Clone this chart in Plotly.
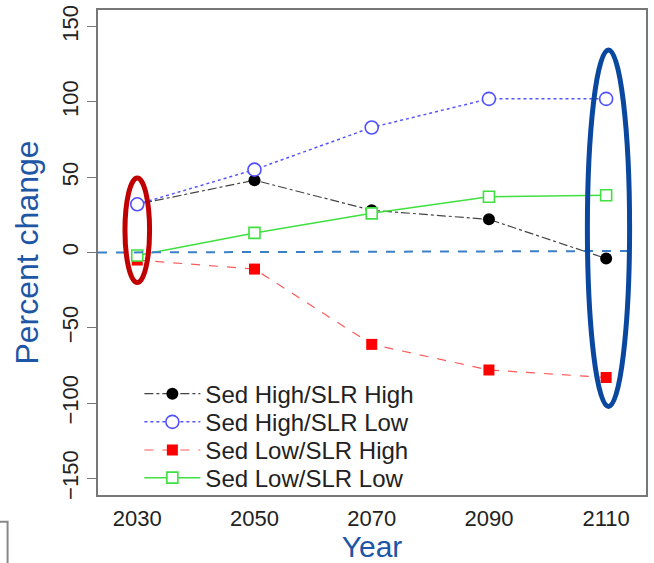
import plotly.graph_objects as go

# Years on the x axis
years = [2030, 2050, 2070, 2090, 2110]

# Percent change for each sediment / sea-level-rise scenario
sed_high_slr_high = [32, 48, 28, 22, -4]
sed_high_slr_low = [32, 55, 83, 102, 102]
sed_low_slr_high = [-5, -11, -61, -78, -83]
sed_low_slr_low = [-2, 13, 26, 37, 38]

series_names = ["Sed High/SLR High", "Sed High/SLR Low", "Sed Low/SLR High", "Sed Low/SLR Low"]

y_ticks = [-150, -100, -50, 0, 50, 100, 150]
x_range = [2023.3, 2116.8]
y_range = [-161, 161]

FONT = "Liberation Sans, Arial, sans-serif"
TITLE_BLUE = "#1D56A5"
TEXT = "#222222"

fig = go.Figure()

fig.add_trace(go.Scatter(
    x=years, y=sed_high_slr_high, name=series_names[0], mode="lines+markers",
    line=dict(color="#444444", width=1.2, dash="dashdot"),
    marker=dict(symbol="circle", size=12, color="black"),
    legend="legend",
))
# hollow symbols are white-filled so they sit cleanly over the other series
fig.add_trace(go.Scatter(
    x=years, y=sed_high_slr_low, name=series_names[1], mode="lines+markers",
    line=dict(color="#5555FF", width=1.5, dash="dot"),
    marker=dict(symbol="circle", size=13, color="white", line=dict(width=1.6, color="#4F4FFF")),
    legend="legend2",
))
fig.add_trace(go.Scatter(
    x=years, y=sed_low_slr_high, name=series_names[2], mode="lines+markers",
    line=dict(color="#FF5A5A", width=1.2, dash="dash"),
    marker=dict(symbol="square", size=11, color="#FF0000"),
    legend="legend3",
))
fig.add_trace(go.Scatter(
    x=years, y=sed_low_slr_low, name=series_names[3], mode="lines+markers",
    line=dict(color="#3FE03F", width=1.5),
    marker=dict(symbol="square", size=11, color="white", line=dict(width=1.6, color="#3FE03F")),
    legend="legend4",
))

# zero reference line
fig.add_shape(type="line", xref="x", yref="y",
              x0=x_range[0], x1=2114.1, y0=0, y1=1,
              line=dict(color="#3A80C8", width=2, dash="dash"))

# highlight ellipses around the first and last years
fig.add_shape(type="circle", xref="x", yref="y",
              x0=2027.9, x1=2032.1, y0=-20, y1=49.5,
              line=dict(color="#C00000", width=5))
fig.add_shape(type="circle", xref="x", yref="y",
              x0=2106.8, x1=2114.0, y0=-102.2, y1=134.5,
              line=dict(color="#0A479E", width=5))

# partial frame in the lower-left corner
fig.add_shape(type="path", xref="paper", yref="paper",
              path="M -0.2,-0.055 L -0.165,-0.055 L -0.165,-0.2",
              line=dict(color="#888888", width=2))


def legend_row(y):
    return dict(
        x=0.0755, y=y, xanchor="left", yanchor="middle",
        bgcolor="rgba(0,0,0,0)", font=dict(size=24, color=TEXT),
        itemwidth=56,
    )


fig.update_layout(
    width=654, height=563,
    margin=dict(l=98, r=8, t=5, b=68),
    plot_bgcolor="white", paper_bgcolor="white",
    font=dict(family=FONT, color=TEXT, size=22),
    showlegend=True,
    legend=legend_row(0.208),
    legend2=legend_row(0.150),
    legend3=legend_row(0.092),
    legend4=legend_row(0.035),
    xaxis=dict(
        range=x_range, tickvals=years, ticks="", showgrid=False, zeroline=False,
        showline=True, mirror=True, linecolor="#777777", linewidth=1.5,
        tickfont=dict(size=22), ticklabelstandoff=3,
        title=dict(text="Year", font=dict(size=30, color=TITLE_BLUE), standoff=6),
    ),
    yaxis=dict(
        range=y_range, tickvals=y_ticks, ticks="outside", ticklen=9, tickcolor="#777777",
        showgrid=False, zeroline=False,
        showline=True, mirror=True, linecolor="#777777", linewidth=1.5,
        tickangle=-90, tickfont=dict(size=22),
        title=dict(text="Percent change", font=dict(size=32, color=TITLE_BLUE), standoff=10),
    ),
)

fig.write_html("out.html")
